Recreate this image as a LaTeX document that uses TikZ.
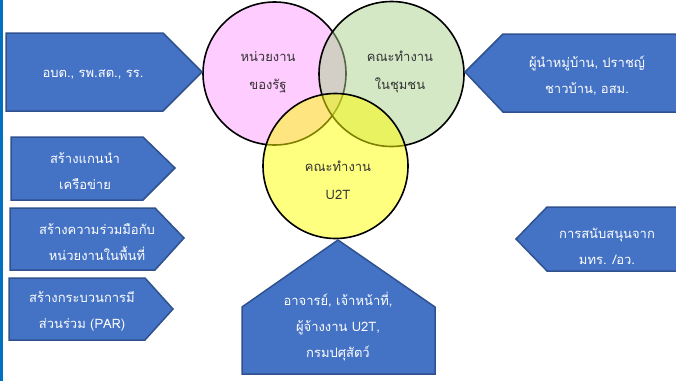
\documentclass[tikz,border=0pt]{standalone}
\usepackage{fontspec}
\newfontfamily\thaifont[Script=Thai]{Loma}
\usetikzlibrary{positioning}
\definecolor{boxblue}{HTML}{4472C4}
\definecolor{boxedge}{HTML}{2F528F}
\definecolor{sideblue}{HTML}{0070C0}
\definecolor{pinkc}{HTML}{FF99FF}
\definecolor{greenc}{HTML}{A9D18E}
\definecolor{yellowc}{HTML}{FFFF00}
\tikzset{
  punkt/.style    = { fill=boxblue, draw=boxedge, line width=1.5pt, line join=miter },
  tekst/.style    = { align=center, text=white, inner sep=0pt,
                      font=\thaifont\fontsize{13}{26}\selectfont },
  krog/.style     = { circle, draw=black, line width=1.6pt, fill opacity=0.5,
                      minimum size=#1, inner sep=0pt },
  krogtekst/.style = { align=center, text=black!80, inner sep=0pt,
                      font=\thaifont\fontsize{13}{28}\selectfont }
}
\begin{document}
\begin{tikzpicture}[x=1pt, y=-1pt]
  \useasboundingbox (0,0) rectangle (676,381);
  \clip (0,0) rectangle (676,381);
  % blue strip at the left edge
  \fill[sideblue] (0,0) rectangle (3,381);
  %% the three circles
  \node[krog=143, fill=pinkc]   (stat)  at (274.5,73.5) {};
  \node[krog=145, fill=greenc]  (chum)  at (391.5,74)   {};
  \node[krog=145, fill=yellowc] (utwot) at (335.5,166)  {};
  \node[krogtekst] (statlbl)  at (268,72)  {หน่วยงาน\\ของรัฐ};
  \node[krogtekst] (chumlbl)  at (400,72)  {คณะทำงาน\\ในชุมชน};
  \node[krogtekst] (utwotlbl) at (338,180) {คณะทำงาน\\U2T};
  %% arrows pointing at the circles
  \filldraw[punkt] (6,33) -- (163,33) -- (202,72) -- (163,111) -- (6,111) -- cycle;
  \node[tekst] (ao) at (93,75) {อบต., รพ.สต., รร.};
  \filldraw[punkt] (690,34) -- (503,34) -- (465,72) -- (503,112) -- (690,112) -- cycle;
  \node[tekst] (phunam) at (587,76) {ผู้นำหมู่บ้าน, ปราชญ์\\ชาวบ้าน, อสม.};
  \filldraw[punkt] (242,374) -- (242,307) -- (338,240) -- (435,307) -- (435,374) -- cycle;
  \node[tekst] (achan) at (338,327) {อาจารย์, เจ้าหน้าที่,\\ผู้จ้างงาน U2T,\\กรมปศุสัตว์};
  %% left column
  \filldraw[punkt] (11,137) -- (143,137) -- (175,168) -- (143,200) -- (11,200) -- cycle;
  \node[tekst] (kaen) at (85,171) {สร้างแกนนำ\\เครือข่าย};
  \filldraw[punkt] (10,208) -- (155,208) -- (184,238) -- (155,270) -- (10,270) -- cycle;
  \node[tekst] (ruam) at (97,242) {สร้างความร่วมมือกับ\\หน่วยงานในพื้นที่};
  \filldraw[punkt] (9,278) -- (145,278) -- (173,309) -- (145,340) -- (9,340) -- cycle;
  \node[tekst] (par) at (82,311) {สร้างกระบวนการมี\\ส่วนร่วม (PAR)};
  %% right, lower
  \filldraw[punkt] (690,207) -- (547,207) -- (516,239) -- (547,271) -- (690,271) -- cycle;
  \node[tekst] (sanap) at (607,246) {การสนับสนุนจาก\\มทร. /อว.};
\end{tikzpicture}
\end{document}
